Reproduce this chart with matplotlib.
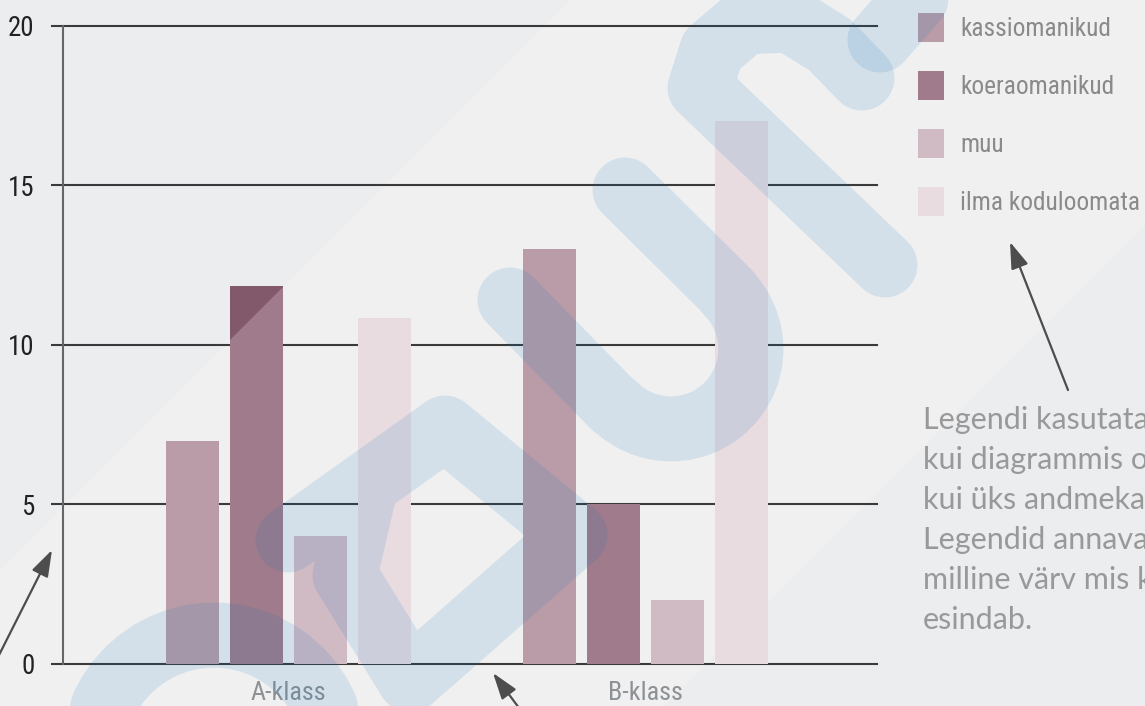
import numpy as np
from matplotlib import pyplot as plt
from matplotlib import font_manager
from matplotlib.font_manager import FontProperties
from matplotlib.textpath import TextPath
from matplotlib.lines import Line2D
from matplotlib.patches import Polygon, Rectangle, FancyArrowPatch

W, H = 1145, 706

groups = ['A-klass', 'B-klass']
labels = ['kassiomanikud', 'koeraomanikud', 'muu', 'ilma koduloomata']
kassiomanikud = [7, 13]
koeraomanikud = [11.85, 5]
muu = [4, 2]
ilma_koduloomata = [10.85, 17]
yticks = [0, 5, 10, 15, 20]
# note text, cut by the right edge as in the original
note = ['Legendi kasutatak', 'kui diagrammis o', 'kui üks andmekat',
        'Legendid annava', 'milline värv mis ka', 'esindab.']

colors = ['#b99ca7', '#a07b8b', '#d0bac4', '#e8dce0']

names = {f.name for f in font_manager.fontManager.ttflist}
narrow = next((n for n in ['Roboto Condensed', 'Liberation Sans Narrow', 'Open Sans Condensed']
               if n in names), 'DejaVu Sans')
light = 'Lato' if 'Lato' in names else 'Open Sans'
plt.rcParams['font.family'] = narrow
plt.rcParams['font.stretch'] = 'condensed'


def fit(s, width_px, base=None):
    # font size that gives the original ink width (optionally balanced with a height based size)
    w = TextPath((0, 0), s, size=10, prop=FontProperties(family=narrow, stretch='condensed')).get_extents().width
    size = 10 * width_px * 0.72 / w
    return size if base is None else (size + base) / 2


legend_fs = fit('kassiomanikud', 148)
tick_fs = fit('20', 23, 20)
cat_fs = fit('A-klass', 69, 20)


def px(x, y):
    # pixel position (origin top-left) -> figure fraction
    return x / W, 1 - y / H


def arc(cx, cy, r, a0, a1, n=24):
    t = np.radians(np.linspace(a0, a1, n))
    return list(zip(cx + r * np.cos(t), cy + r * np.sin(t)))


fig = plt.figure(figsize=(W / 100, H / 100), dpi=100, facecolor='#ecedef')

# lighter diagonal band of the page
fig.add_artist(Polygon([px(570, 0), px(W, 0), px(W, 225), px(664, H), px(0, H), px(0, 570)],
                       closed=True, transform=fig.transFigure, fc='#f0f0f0', ec='none', zorder=-10))

ax = fig.add_axes([63 / W, 42 / H, (877 - 63) / W, (664 - 25.7) / H])
ax.set_facecolor('none')

for v in yticks:
    ax.axhline(v, color='#3a3a3a', lw=1.5, zorder=1, clip_on=False)

x = np.arange(len(groups))
offsets = np.array([-0.269, -0.0896, 0.0896, 0.269])
width = 0.148
series = [kassiomanikud, koeraomanikud, muu, ilma_koduloomata]
bars = []
for vals, off, c in zip(series, offsets, colors):
    bars += list(ax.bar(x + off, vals, width, color=c, zorder=2))

# darker corner of the page tints the bars strongly
for b in bars:
    shade = Polygon([px(0, 0), px(570, 0), px(0, 570)], closed=True, transform=fig.transFigure,
                    fc='#300018', ec='none', alpha=0.27, zorder=3)
    ax.add_patch(shade)
    shade.set_clip_path(b)

ax.set_xlim(-0.6317, 1.6485)
ax.set_ylim(0, 20)
ax.set_yticks(yticks)
ax.set_xticks(x, groups)
for s in ['top', 'right', 'bottom']:
    ax.spines[s].set_visible(False)
ax.spines['left'].set_color('#666666')
ax.spines['left'].set_linewidth(1.5)
ax.tick_params(axis='y', length=8.6, width=1.5, color='#3a3a3a', pad=12,
               labelsize=tick_fs, labelcolor='#222222')
ax.tick_params(axis='x', length=0, pad=12, labelsize=cat_fs, labelcolor='#8c9196')

# legend: swatch + label per series
for i, (lab, c) in enumerate(zip(labels, colors)):
    fig.add_artist(Rectangle(px(918, 42 + 58 * i), 26 / W, 29 / H, transform=fig.transFigure,
                             fc=c, ec='none', zorder=4))
    fig.text(*px(960, 36 + 58 * i), lab, fontsize=legend_fs, color='#8a8a8a',
             va='baseline', ha='left')

for i, line in enumerate(note):
    fig.text(*px(923, 429 + 40 * i), line, family=light, stretch='normal',
             fontsize=22, color='#999999', va='baseline', ha='left')

# watermark strokes
marks = [
    [(885, 265), (700, 88), (712, 50), (745, 22), (790, 20), (830, 45), (862, 78)],
    [(950, -40), (880, 40)],
    [(1080, -60), (1200, 40)],
    [(510, 300), (614, 406)] + arc(671, 349, 80, 135, -45) + [(728, 292), (625, 190)],
    arc(214, 757, 122, 190, 350),
    [(288, 540), (445, 428), (575, 535), (410, 680), (345, 575), (365, 488)],
]
for m in marks:
    xs = [p[0] / W for p in m]
    ys = [1 - p[1] / H for p in m]
    fig.add_artist(Line2D(xs, ys, transform=fig.transFigure, lw=46.8, color='#0773be', alpha=0.12,
                          solid_capstyle='round', solid_joinstyle='round', zorder=5))

arrows = [((-5, 663), (52, 550)), ((525, 716), (493, 673)), ((1068, 390), (1010, 242))]
for tail, tip in arrows:
    fig.add_artist(FancyArrowPatch(px(*tail), px(*tip), transform=fig.transFigure,
                                   arrowstyle='-|>,head_length=0.9,head_width=0.3',
                                   mutation_scale=18, lw=1.6, color='#4d4d4d',
                                   shrinkA=0, shrinkB=0, zorder=6))

fig.savefig('out.png', dpi=100, facecolor=fig.get_facecolor())
